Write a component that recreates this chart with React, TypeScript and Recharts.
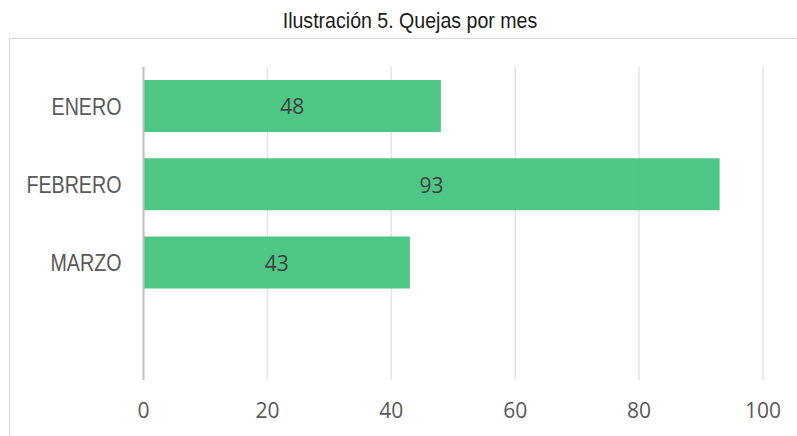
import { BarChart, Bar, XAxis, YAxis, CartesianGrid, LabelList } from 'recharts';

const months = ['ENERO', 'FEBRERO', 'MARZO', ''];
const complaints = [48, 93, 43, null];
const xTicks = [0, 20, 40, 60, 80, 100];

const sans = "'Liberation Sans', Arial, sans-serif";
const digits = "'Open Sans', 'Liberation Sans', sans-serif";

// Liberation Sans squeezed horizontally to look like Arial Narrow
function NarrowTick(props: any) {
  const { x, y, payload } = props;
  return (
    <g transform={`translate(${x},${y})`}>
      <text
        transform="scale(0.82,1)"
        textAnchor="end"
        dy="0.36em"
        fill="#595959"
        fontSize={24}
        fontFamily={sans}
      >
        {payload.value}
      </text>
    </g>
  );
}

export default function App() {
  const chartData = months.map((m, i) => ({ mes: m, quejas: complaints[i] }));

  return (
    <div style={{ position: 'absolute', left: 0, top: 0, width: 797, height: 436, background: '#fff', overflow: 'hidden' }}>
      {/* outer frame, only top and left edges visible */}
      <div
        style={{
          position: 'absolute',
          left: 9,
          top: 38,
          width: 820,
          height: 420,
          borderTop: '1px solid #d9d9d9',
          borderLeft: '1px solid #d9d9d9',
        }}
      />
      <div
        style={{
          position: 'absolute',
          left: 0,
          top: 10,
          width: 820,
          textAlign: 'center',
          fontFamily: sans,
          fontSize: 22.5,
          lineHeight: 1,
          color: '#1a1a1a',
          transform: 'scaleX(0.87)',
          transformOrigin: '410px 0',
        }}
      >
        Ilustración 5. Quejas por mes
      </div>
      <div style={{ position: 'absolute', left: 0, top: 0 }}>
        <BarChart
          width={797}
          height={436}
          data={chartData}
          layout="vertical"
          margin={{ top: 67, right: 34, left: 0, bottom: 0 }}
          barSize={52}
        >
          <CartesianGrid horizontal={false} stroke="#e4e4e4" strokeWidth={1.5} />
          <XAxis
            type="number"
            domain={[0, 100]}
            ticks={xTicks}
            axisLine={false}
            tickLine={false}
            tickSize={0}
            tickMargin={23}
            height={56}
            tick={{ fill: '#595959', fontSize: 21, fontFamily: digits }}
          />
          <YAxis
            type="category"
            dataKey="mes"
            width={143.5}
            axisLine={{ stroke: '#bfbfbf', strokeWidth: 2 }}
            tickLine={false}
            tickSize={0}
            tickMargin={22}
            tick={<NarrowTick />}
          />
          <Bar dataKey="quejas" fill="#45c47f" fillOpacity={0.95} isAnimationActive={false}>
            <LabelList
              dataKey="quejas"
              position="center"
              fill="#404040"
              fontSize={21}
              fontFamily={digits}
              dy={1}
            />
          </Bar>
        </BarChart>
      </div>
    </div>
  );
}
